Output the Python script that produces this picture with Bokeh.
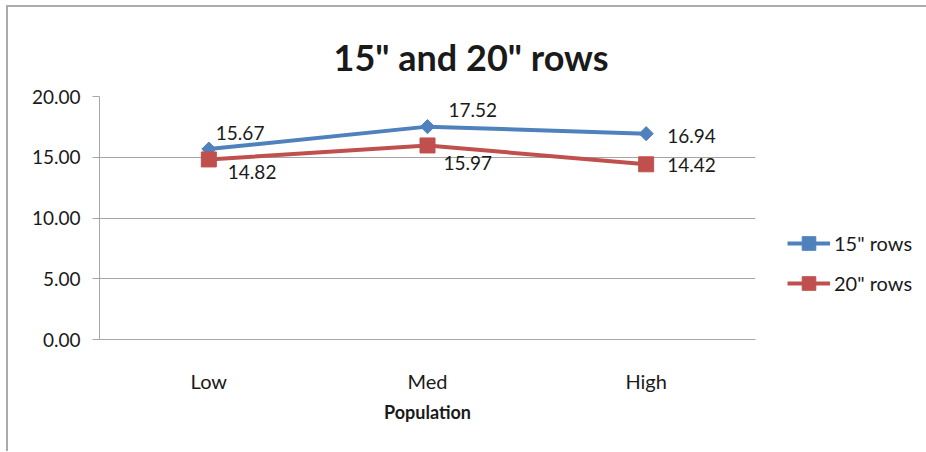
from bokeh.plotting import figure
from bokeh.models import (Legend, LegendItem, Label, PrintfTickFormatter, FixedTicker)
from bokeh.embed import file_html
from bokeh.resources import INLINE
import math

# ---- data ----
categories = ["Low", "Med", "High"]
rows15 = [15.67, 17.52, 16.94]
rows20 = [14.82, 15.97, 14.42]
y_ticks = [0, 5, 10, 15, 20]
series_names = ['15" rows', '20" rows']
title_text = '15" and 20" rows'
x_title = "Population"

# ---- style ----
FONT = "Lato"
BLUE = "#4F81BD"
RED = "#C0504D"
GRID = "#A6A6A6"
TXT = "#1A1A1A"

p = figure(x_range=categories, y_range=(0, 20), frame_width=656, frame_height=243,
           output_backend="svg", toolbar_location=None,
           min_border_left=91, min_border_right=170,
           min_border_top=89, min_border_bottom=112)
p.styles = {"margin-left": "6px", "margin-top": "5px",
            "border-left": "2px solid #ABABAB", "border-top": "2px solid #ABABAB"}
p.outline_line_color = None
p.background_fill_color = "white"
p.border_fill_color = "white"

# title
p.title.text = title_text
p.title.text_font = FONT
p.title.text_font_size = "36px"
p.title.text_font_style = "bold"
p.title.text_color = TXT
p.title.align = "left"
p.title.offset = 234
p.title.standoff = 35

# y axis
p.yaxis.ticker = FixedTicker(ticks=y_ticks)
p.yaxis.formatter = PrintfTickFormatter(format="%.2f")
p.yaxis.axis_line_color = GRID
p.yaxis.major_tick_line_color = GRID
p.yaxis.major_tick_out = 7
p.yaxis.major_tick_in = 0
p.yaxis.minor_tick_line_color = None
p.yaxis.major_label_standoff = 12
p.yaxis.major_label_text_font = FONT
p.yaxis.major_label_text_font_size = "19px"
p.yaxis.major_label_text_color = TXT

# x axis
p.xaxis.axis_line_color = GRID
p.xaxis.major_tick_line_color = None
p.xaxis.major_tick_out = 0
p.xaxis.major_tick_in = 0
p.xaxis.minor_tick_line_color = None
p.xaxis.major_label_standoff = 29
p.xaxis.major_label_text_font = FONT
p.xaxis.major_label_text_font_size = "20px"
p.xaxis.major_label_text_color = TXT
p.xaxis.axis_label = x_title
p.xaxis.axis_label_text_font = FONT
p.xaxis.axis_label_text_font_size = "18px"
p.xaxis.axis_label_text_font_style = "bold"
p.xaxis.axis_label_text_color = TXT
p.xaxis.axis_label_standoff = 5

p.xgrid.grid_line_color = None
p.ygrid.grid_line_color = GRID
p.ygrid.ticker = FixedTicker(ticks=y_ticks)

# series
l1 = p.line(categories, rows15, line_color=BLUE, line_width=4)
s1 = p.scatter(categories, rows15, marker="square", angle=math.pi / 4, size=10,
               fill_color=BLUE, line_color=BLUE)
l2 = p.line(categories, rows20, line_color=RED, line_width=4)
s2 = p.scatter(categories, rows20, marker="square", size=15,
               fill_color=RED, line_color=RED)

# x position of each category in the factor range's synthetic coordinates
cat_x = [categories.index(c) + 0.5 for c in categories]

# data labels
lab15_dx = [7, 21, 21]
lab15_dy = [16, 17, -2]
lab20_dx = [19, 16, 21]
lab20_dy = [-13, -18, -1]
for vals, dx, dy in ((rows15, lab15_dx, lab15_dy), (rows20, lab20_dx, lab20_dy)):
    for xi, v, ox, oy in zip(cat_x, vals, dx, dy):
        p.add_layout(Label(x=xi, y=v, text="%.2f" % v, x_offset=ox, y_offset=oy,
                           text_font=FONT, text_font_size="19px", text_color=TXT,
                           text_align="left", text_baseline="middle"))

# legend
legend = Legend(items=[LegendItem(label=series_names[0], renderers=[l1, s1]),
                       LegendItem(label=series_names[1], renderers=[l2, s2])],
                location=(32, 39), orientation="vertical")
legend.margin = 0
legend.padding = 0
legend.spacing = 6
legend.glyph_width = 43
legend.glyph_height = 34
legend.label_standoff = 4
legend.border_line_color = None
legend.background_fill_alpha = 0
legend.label_text_font = FONT
legend.label_text_font_size = "20px"
legend.label_text_color = TXT
p.add_layout(legend, "right")

open("out.html", "w").write(file_html(p, INLINE))
